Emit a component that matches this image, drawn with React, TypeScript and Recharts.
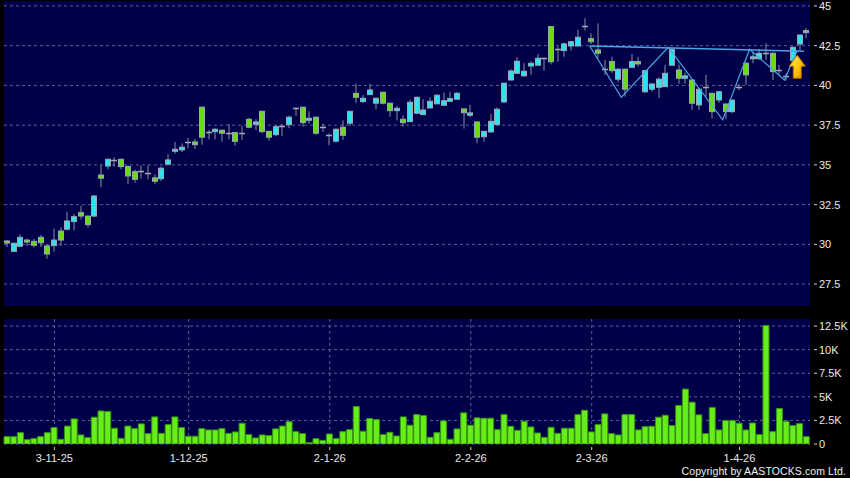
import React from 'react';
import { ComposedChart, Bar, Line, XAxis, YAxis, CartesianGrid, ReferenceDot } from 'recharts';

// daily OHLC
const opens = [
  30.21, 29.56, 29.88, 30.27, 30.19, 30.44, 29.9, 29.92, 30.84, 30.95,
  31.43, 31.99, 31.78, 31.78, 34.36, 34.93, 35.33, 35.35, 34.89, 34.57,
  34.6, 34.49, 34.18, 34.13, 35.04, 35.86, 35.94, 36.41, 36.44, 38.63,
  37.05, 37.09, 37.18, 36.99, 37.03, 37.03, 37.87, 37.55, 38.37, 37.11,
  36.9, 37.47, 37.53, 38.58, 38.63, 37.81, 38.0, 37.37, 36.9, 36.49,
  37.37, 37.62, 39.5, 38.98, 39.42, 38.88, 39.57, 38.88, 38.41, 37.87,
  37.72, 38.25, 38.16, 38.58, 38.84, 38.75, 39.0, 39.13, 38.52, 38.12,
  37.7, 36.77, 37.07, 37.53, 38.96, 40.34, 40.76, 40.6, 41.22, 41.27,
  41.71, 43.7, 42.27, 42.19, 42.48, 42.48, 43.76, 42.94, 42.23, 41.02,
  41.5, 40.39, 41.02, 41.14, 41.5, 39.6, 39.76, 39.88, 39.92, 41.27,
  40.97, 40.45, 40.34, 38.77, 39.92, 39.5, 39.08, 38.83, 38.35, 39.88,
  41.4, 41.68, 41.68, 42.06, 42.02, 41.0, 40.6, 41.56, 42.6, 43.45,
];
const highs = [
  30.27, 30.1, 30.63, 30.36, 30.34, 30.59, 29.95, 30.99, 31.07, 32.05,
  31.91, 32.43, 31.8, 33.1, 34.99, 35.4, 35.48, 35.4, 34.97, 34.7,
  34.97, 34.97, 34.4, 34.9, 35.67, 36.44, 36.35, 36.7, 36.63, 38.66,
  37.2, 37.3, 37.22, 37.57, 37.05, 37.45, 37.95, 37.87, 38.4, 37.14,
  37.5, 37.57, 38.1, 38.63, 38.66, 38.37, 38.03, 37.6, 36.98, 37.3,
  37.8, 38.4, 40.1, 39.4, 40.1, 39.25, 39.6, 38.9, 38.7, 38.1,
  39.1, 39.3, 39.13, 39.25, 39.45, 39.55, 39.6, 39.6, 38.55, 38.77,
  37.73, 37.14, 38.2, 38.62, 40.17, 41.0, 41.77, 41.4, 41.52, 41.98,
  41.74, 43.73, 42.44, 42.7, 42.78, 43.5, 44.22, 43.28, 43.9, 41.6,
  41.8, 41.05, 41.05, 41.98, 41.8, 41.0, 40.15, 40.5, 41.3, 42.4,
  41.3, 40.8, 40.37, 39.8, 40.66, 39.53, 39.63, 38.86, 39.1, 40.1,
  41.43, 42.1, 42.27, 42.65, 42.1, 41.3, 40.76, 42.45, 43.2, 43.6,
];
const lows = [
  29.83, 29.52, 29.85, 29.9, 29.81, 29.83, 29.1, 29.54, 29.9, 30.88,
  30.88, 31.57, 31.07, 31.7, 33.59, 34.72, 34.89, 34.72, 33.8, 33.88,
  34.13, 34.1, 33.8, 33.97, 35.0, 35.7, 35.8, 36.05, 36.0, 36.27,
  36.6, 36.6, 36.46, 36.6, 36.2, 36.57, 37.3, 37.2, 37.0, 36.52,
  36.8, 36.8, 37.3, 38.08, 37.4, 37.6, 36.9, 37.07, 36.23, 36.4,
  36.57, 37.45, 38.9, 38.9, 39.4, 38.5, 38.8, 38.03, 37.8, 37.4,
  37.7, 38.2, 38.14, 38.55, 38.8, 38.73, 38.98, 39.1, 37.28, 38.0,
  36.36, 36.46, 37.05, 37.5, 38.87, 40.3, 40.74, 40.55, 40.66, 41.25,
  40.93, 41.33, 41.49, 41.8, 42.2, 42.45, 43.45, 42.6, 41.7, 40.66,
  40.8, 40.2, 39.3, 41.1, 41.2, 39.5, 39.6, 39.2, 39.9, 41.25,
  40.1, 40.1, 38.45, 38.45, 39.3, 37.93, 38.9, 37.87, 38.25, 39.7,
  40.03, 41.4, 41.6, 41.6, 40.34, 40.66, 40.3, 41.5, 42.23, 42.96,
];
const closes = [
  30.08, 30.07, 30.44, 30.15, 29.94, 30.1, 29.39, 30.27, 30.27, 31.47,
  31.74, 31.78, 31.24, 33.04, 34.16, 35.35, 35.33, 34.89, 34.3, 34.09,
  34.6, 34.49, 33.97, 34.79, 35.31, 35.98, 36.11, 36.41, 36.27, 36.74,
  37.05, 37.24, 36.99, 36.99, 36.48, 37.03, 37.37, 37.7, 37.09, 36.74,
  37.4, 37.47, 38.0, 38.58, 37.66, 37.93, 36.99, 37.37, 36.9, 37.24,
  36.86, 38.37, 39.25, 39.19, 39.71, 39.19, 38.88, 38.41, 38.56, 37.66,
  38.94, 39.25, 38.45, 39.0, 39.38, 39.04, 39.17, 39.5, 38.28, 38.27,
  36.74, 37.11, 37.74, 38.5, 40.14, 40.91, 41.52, 40.89, 41.39, 41.71,
  41.71, 41.49, 42.27, 42.61, 42.75, 43.03, 43.76, 42.75, 42.02, 41.02,
  40.93, 41.02, 39.76, 41.5, 41.35, 40.93, 40.09, 40.39, 40.76, 42.27,
  40.45, 40.6, 38.88, 39.76, 39.92, 38.35, 39.6, 38.35, 39.08, 39.88,
  40.66, 41.8, 42.02, 42.06, 40.87, 41.0, 40.6, 42.4, 43.17, 43.32,
];
// volume in thousands
const volumes = [
  0.78, 0.78, 1.2, 0.46, 0.57, 0.78, 1.2, 1.74, 0.5, 1.9,
  2.66, 0.96, 0.67, 2.84, 3.5, 3.44, 1.67, 0.6, 1.9, 1.63,
  2.13, 1.1, 2.87, 1.13, 2.06, 2.87, 1.74, 0.82, 0.82, 1.63,
  1.49, 1.49, 1.63, 1.13, 1.28, 2.2, 1.0, 0.64, 0.96, 0.89,
  1.6, 1.9, 2.37, 1.31, 1.1, 0.14, 0.57, 0.39, 1.06, 0.57,
  1.31, 1.52, 3.97, 1.35, 2.7, 2.59, 1.0, 1.24, 0.85, 2.87,
  1.99, 3.12, 3.01, 0.71, 1.2, 2.45, 0.5, 1.6, 3.3, 1.99,
  2.77, 2.73, 2.73, 1.52, 3.12, 1.88, 1.45, 2.41, 1.81, 1.17,
  0.71, 1.77, 1.13, 1.67, 1.67, 3.12, 3.58, 1.28, 2.06, 3.19,
  1.1, 0.96, 3.12, 3.12, 1.49, 1.84, 1.88, 2.84, 3.05, 1.95,
  4.08, 5.82, 4.43, 3.09, 1.1, 3.87, 1.49, 2.48, 2.48, 2.2,
  1.49, 2.23, 1.0, 12.55, 1.31, 3.76, 2.41, 1.95, 2.16, 0.78,
];

const tickIdx = [7, 27, 48, 69, 87, 109];
const tickLabels = ['3-11-25', '1-12-25', '2-1-26', '2-2-26', '2-3-26', '1-4-26'];
const priceTicks = [27.5, 30, 32.5, 35, 37.5, 40, 42.5, 45];
const volTicks = [0, 2.5, 5, 7.5, 10, 12.5];

// drawn pattern (bar position, price)
const neckline = [
  { x: 86.7, v: 42.48 },
  { x: 118.6, v: 42.15 },
];
const zigzag = [
  { x: 86.7, v: 42.48 },
  { x: 91.4, v: 39.25 },
  { x: 98.4, v: 42.4 },
  { x: 106.5, v: 37.83 },
  { x: 110.5, v: 42.27 },
  { x: 115.7, v: 40.34 },
  { x: 117.6, v: 42.2 },
];
const arrowAt = { x: 117.6, v: 41.9 };

const rows = opens.map((o, i) => ({
  i,
  o,
  h: highs[i],
  l: lows[i],
  c: closes[i],
  vol: volumes[i],
}));

const BG = '#000048';
const GRID = '#5f5f95';
const FONT = '"Liberation Sans", Arial, sans-serif';
const TXT = '#e8e8e8';

const Candle = (props: any) => {
  const { x, y, width, height, payload } = props;
  const { o, h, l, c } = payload;
  const top = Math.min(y, y + height);
  const k = Math.abs(height) / (h - l);
  const py = (p: number) => top + (h - p) * k;
  const left = Math.round(x + width / 2 - 3);
  const cx = left + 3;
  const up = c > o;
  const flat = o === c;
  const yt = py(Math.max(o, c));
  const yb = py(Math.min(o, c));
  return (
    <g>
      <line x1={cx} x2={cx} y1={py(h)} y2={py(l)} stroke="#8a909c" strokeWidth={1} />
      {flat ? (
        <line x1={left} x2={left + 6} y1={Math.round(yt) + 0.5} y2={Math.round(yt) + 0.5} stroke="#a8a8b4" strokeWidth={1.5} />
      ) : (
        <rect
          x={left + 0.5}
          y={yt}
          width={5}
          height={Math.max(yb - yt, 2)}
          fill={up ? '#2fe2ef' : '#66dd11'}
          stroke="#9aa6b2"
          strokeWidth={1}
        />
      )}
    </g>
  );
};

const Arrow = (props: any) => {
  const { cx, cy } = props;
  const pts = [
    [0, 0], [8, 11], [4, 11], [4, 23], [-4, 23], [-4, 11], [-8, 11],
  ].map(([dx, dy]) => `${cx + dx},${cy + dy}`).join(' ');
  return (
    <g>
      <defs>
        <linearGradient id="arrowFill" x1="0" y1="0" x2="1" y2="1">
          <stop offset="0%" stopColor="#fff27a" />
          <stop offset="55%" stopColor="#ffc400" />
          <stop offset="100%" stopColor="#e08800" />
        </linearGradient>
      </defs>
      <polygon points={pts} fill="url(#arrowFill)" stroke="#b87000" strokeWidth={1} />
    </g>
  );
};

const RightTick = (props: any) => {
  const { x, y, payload, fmt } = props;
  return (
    <g>
      <line x1={x + 4} x2={x + 7} y1={y} y2={y} stroke="#d0d0d0" strokeWidth={1} />
      <text x={x + 9} y={y} dy={4} fill={TXT} fontSize={11} fontFamily={FONT}>
        {fmt(payload.value)}
      </text>
    </g>
  );
};

const DateTick = (props: any) => {
  const { x, y, payload } = props;
  const label = tickLabels[tickIdx.indexOf(payload.value)];
  return (
    <g>
      <line x1={x} x2={x} y1={y + 3} y2={y + 6} stroke="#d0d0d0" strokeWidth={1} />
      <text x={x} y={y + 18} textAnchor="middle" fill={TXT} fontSize={11} fontFamily={FONT}>
        {label}
      </text>
    </g>
  );
};

const fmtPrice = (v: number) => String(v);
const fmtVol = (v: number) => (v === 0 ? '0' : `${v}K`);

export default function App() {
  return (
    <div style={{ position: 'fixed', left: 0, top: 0, width: 850, height: 478, background: '#000', overflow: 'hidden' }}>
      <div style={{ position: 'absolute', left: 0, top: 0 }}>
        <ComposedChart width={850} height={307} data={rows} margin={{ top: 1, right: 0, bottom: 1, left: 4 }}>
          <CartesianGrid fill={BG} fillOpacity={1} stroke={GRID} strokeDasharray="3 3" syncWithTicks />
          <XAxis dataKey="i" type="category" ticks={tickIdx} tick={false} axisLine={false} tickLine={false} height={0} />
          <XAxis xAxisId="p" dataKey="x" type="number" domain={[-0.5, 119.5]} hide allowDataOverflow />
          <YAxis
            orientation="right"
            domain={[26.12, 45.31]}
            ticks={priceTicks}
            allowDataOverflow
            width={40}
            axisLine={false}
            tickLine={false}
            tickSize={0}
            tickMargin={0}
            interval={0}
            tick={<RightTick fmt={fmtPrice} />}
          />
          <Bar dataKey={(d: any) => [d.l, d.h]} barSize={6} shape={<Candle />} isAnimationActive={false} />
          <Line xAxisId="p" data={neckline} dataKey="v" stroke="#4aa6e6" strokeWidth={1.6} dot={false} isAnimationActive={false} />
          <Line xAxisId="p" data={zigzag} dataKey="v" stroke="#4aa6e6" strokeWidth={1.2} dot={false} isAnimationActive={false} />
          <ReferenceDot xAxisId="p" x={arrowAt.x} y={arrowAt.v} shape={<Arrow />} />
        </ComposedChart>
      </div>
      <div style={{ position: 'absolute', left: 0, top: 307 }}>
        <ComposedChart width={850} height={171} data={rows} margin={{ top: 12, right: 0, bottom: 14, left: 4 }}>
          <CartesianGrid fill={BG} fillOpacity={1} stroke={GRID} strokeDasharray="3 3" syncWithTicks />
          <XAxis
            dataKey="i"
            type="category"
            ticks={tickIdx}
            interval={0}
            height={20}
            axisLine={false}
            tickLine={false}
            tickSize={0}
            tickMargin={0}
            tick={<DateTick />}
          />
          <YAxis
            orientation="right"
            domain={[0, 13.25]}
            ticks={volTicks}
            allowDataOverflow
            width={40}
            axisLine={false}
            tickLine={false}
            tickSize={0}
            tickMargin={0}
            interval={0}
            tick={<RightTick fmt={fmtVol} />}
          />
          <Bar dataKey="vol" barSize={6} fill="#66ee1a" stroke="#3a9410" strokeWidth={1} isAnimationActive={false} />
        </ComposedChart>
      </div>
      <div
        style={{
          position: 'absolute',
          right: 4,
          top: 465,
          fontFamily: FONT,
          fontSize: 10.5,
          lineHeight: '13px',
          letterSpacing: 0.1,
          color: '#f0f0f0',
          whiteSpace: 'nowrap',
        }}
      >
        Copyright by AASTOCKS.com Ltd.
      </div>
    </div>
  );
}
